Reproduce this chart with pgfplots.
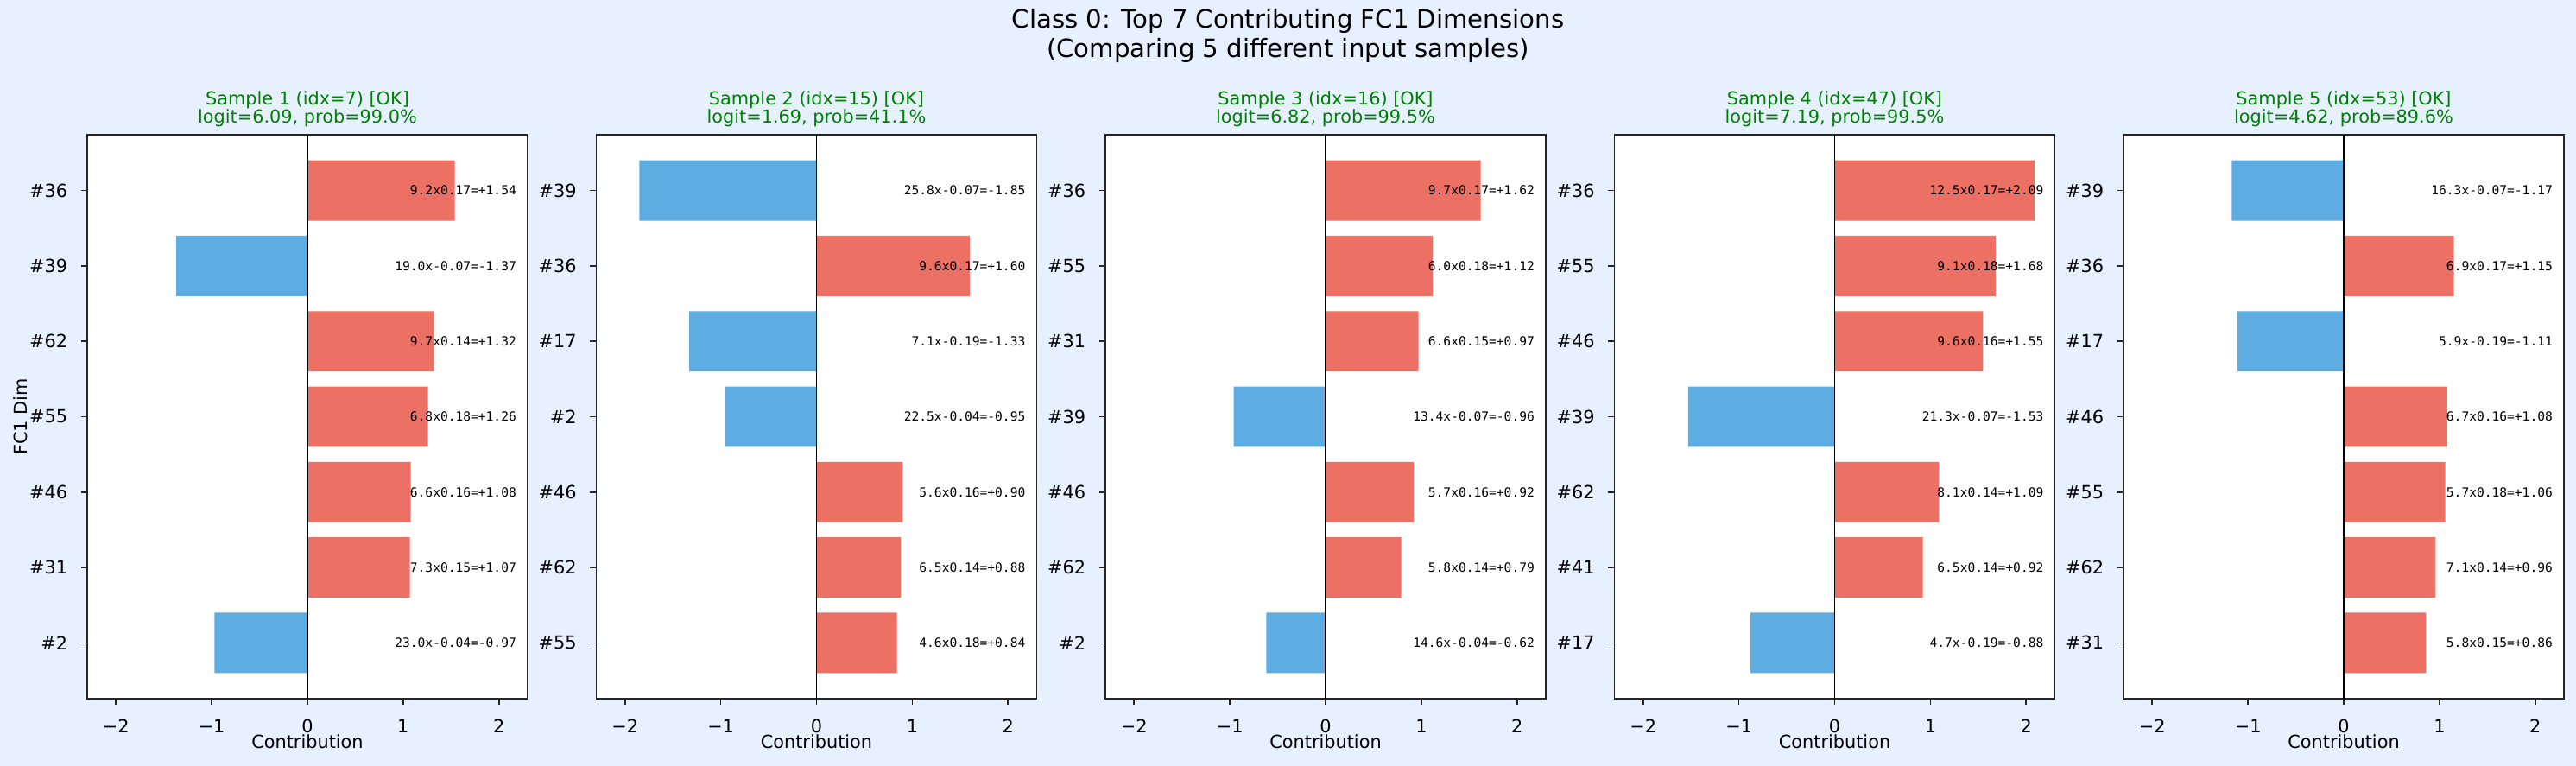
\documentclass[border=0pt]{standalone}
\usepackage{fontspec}
\setmainfont{DejaVu Sans}
\newfontfamily\monof{DejaVu Sans Mono}
\usepackage{pgfplots}
\pgfplotsset{compat=1.18}
\definecolor{bgc}{HTML}{E6F0FF}
\definecolor{posc}{HTML}{EC7063}
\definecolor{negc}{HTML}{5DADE2}
\definecolor{tgreen}{HTML}{008000}
\definecolor{spinec}{HTML}{262626}
\newcommand\tenf{\fontsize{10bp}{12bp}\selectfont}
\newcommand\annf{\monof\fontsize{7bp}{8bp}\selectfont}
\pgfplotsset{
  panel/.style={
    anchor=south west, scale only axis, width=244.8bp, height=313.44bp,
    xmin=-2.3, xmax=2.3, ymin=-0.74, ymax=6.74,
    axis background/.style={fill=white},
    axis line style={draw=spinec, line width=0.8bp},
    xtick={-2,-1,0,1,2}, xticklabels={−2,−1,0,1,2},
    ytick={0,1,2,3,4,5,6},
    tick pos=left,
    tick align=outside, major tick length=3.5bp,
    every tick/.style={draw=spinec, line width=0.8bp},
    tick label style={font=\tenf, text=black},
    xticklabel style={anchor=base, yshift=-15.36bp, inner sep=0pt},
    yticklabel style={anchor=east, xshift=-7.3bp, inner sep=0pt},
    xlabel={Contribution},
    xlabel style={at={(rel axis cs:0.5,0)}, anchor=base, yshift=-27.84bp, font=\tenf, inner sep=0pt},
    clip=false,
  },
  pbar/.style={xbar, bar width=0.8, bar shift=0pt, fill=posc, draw=none},
  nbar/.style={xbar, bar width=0.8, bar shift=0pt, fill=negc, draw=none},
  annot/.style={only marks, mark=none, nodes near coords, point meta=explicit symbolic,
    nodes near coords style={anchor=east, inner sep=0pt, font=\annf, text=black}},
}
\newcommand\ptitle[2]{%
  \node[anchor=base, text=tgreen, font=\tenf, inner sep=0pt, yshift=16.32bp] at (rel axis cs:0.5,1) {#1};
  \node[anchor=base, text=tgreen, font=\tenf, inner sep=0pt, yshift=6.24bp] at (rel axis cs:0.5,1) {#2};
  \draw[black, line width=0.8bp] (axis cs:0,-0.74) -- (axis cs:0,6.74);
}
\begin{document}
\begin{tikzpicture}
\useasboundingbox (0,0) rectangle (1431.84bp,425.76bp);
\fill[bgc] (0,0) rectangle (1431.84bp,425.76bp);
\node[anchor=base, font=\fontsize{14bp}{16bp}\selectfont, inner sep=0pt] at (715.92bp,409.92bp) {Class 0: Top 7 Contributing FC1 Dimensions};
\node[anchor=base, font=\fontsize{14bp}{16bp}\selectfont, inner sep=0pt] at (715.92bp,393.6bp) {(Comparing 5 different input samples)};

% Panel 1
\begin{axis}[panel, at={(48.48bp,37.44bp)}, yticklabels={\#2,\#31,\#46,\#55,\#62,\#39,\#36}]
\addplot[pbar] coordinates {(1.54,6) (1.32,4) (1.26,3) (1.08,2) (1.07,1)};
\addplot[nbar] coordinates {(-1.37,5) (-0.97,0)};
\addplot[annot] table[x=x, y=y, meta=lab] {
x y lab
2.185 6 9.2x0.17=+1.54
2.185 5 19.0x-0.07=-1.37
2.185 4 9.7x0.14=+1.32
2.185 3 6.8x0.18=+1.26
2.185 2 6.6x0.16=+1.08
2.185 1 7.3x0.15=+1.07
2.185 0 23.0x-0.04=-0.97
};
\ptitle{Sample 1 (idx=7) [OK]}{logit=6.09, prob=99.0\%}
\node[rotate=90, anchor=south, font=\tenf, inner sep=0pt] at ([xshift=-33.1bp]rel axis cs:0,0.5) {FC1 Dim};
\end{axis}

% Panel 2
\begin{axis}[panel, at={(331.44bp,37.44bp)}, yticklabels={\#55,\#62,\#46,\#2,\#17,\#36,\#39}]
\addplot[pbar] coordinates {(1.60,5) (0.90,2) (0.88,1) (0.84,0)};
\addplot[nbar] coordinates {(-1.85,6) (-1.33,4) (-0.95,3)};
\addplot[annot] table[x=x, y=y, meta=lab] {
x y lab
2.185 6 25.8x-0.07=-1.85
2.185 5 9.6x0.17=+1.60
2.185 4 7.1x-0.19=-1.33
2.185 3 22.5x-0.04=-0.95
2.185 2 5.6x0.16=+0.90
2.185 1 6.5x0.14=+0.88
2.185 0 4.6x0.18=+0.84
};
\ptitle{Sample 2 (idx=15) [OK]}{logit=1.69, prob=41.1\%}
\end{axis}

% Panel 3
\begin{axis}[panel, at={(614.4bp,37.44bp)}, yticklabels={\#2,\#62,\#46,\#39,\#31,\#55,\#36}]
\addplot[pbar] coordinates {(1.62,6) (1.12,5) (0.97,4) (0.92,2) (0.79,1)};
\addplot[nbar] coordinates {(-0.96,3) (-0.62,0)};
\addplot[annot] table[x=x, y=y, meta=lab] {
x y lab
2.185 6 9.7x0.17=+1.62
2.185 5 6.0x0.18=+1.12
2.185 4 6.6x0.15=+0.97
2.185 3 13.4x-0.07=-0.96
2.185 2 5.7x0.16=+0.92
2.185 1 5.8x0.14=+0.79
2.185 0 14.6x-0.04=-0.62
};
\ptitle{Sample 3 (idx=16) [OK]}{logit=6.82, prob=99.5\%}
\end{axis}

% Panel 4
\begin{axis}[panel, at={(897.36bp,37.44bp)}, yticklabels={\#17,\#41,\#62,\#39,\#46,\#55,\#36}]
\addplot[pbar] coordinates {(2.09,6) (1.68,5) (1.55,4) (1.09,2) (0.92,1)};
\addplot[nbar] coordinates {(-1.53,3) (-0.88,0)};
\addplot[annot] table[x=x, y=y, meta=lab] {
x y lab
2.185 6 12.5x0.17=+2.09
2.185 5 9.1x0.18=+1.68
2.185 4 9.6x0.16=+1.55
2.185 3 21.3x-0.07=-1.53
2.185 2 8.1x0.14=+1.09
2.185 1 6.5x0.14=+0.92
2.185 0 4.7x-0.19=-0.88
};
\ptitle{Sample 4 (idx=47) [OK]}{logit=7.19, prob=99.5\%}
\end{axis}

% Panel 5
\begin{axis}[panel, at={(1180.32bp,37.44bp)}, yticklabels={\#31,\#62,\#55,\#46,\#17,\#36,\#39}]
\addplot[pbar] coordinates {(1.15,5) (1.08,3) (1.06,2) (0.96,1) (0.86,0)};
\addplot[nbar] coordinates {(-1.17,6) (-1.11,4)};
\addplot[annot] table[x=x, y=y, meta=lab] {
x y lab
2.185 6 16.3x-0.07=-1.17
2.185 5 6.9x0.17=+1.15
2.185 4 5.9x-0.19=-1.11
2.185 3 6.7x0.16=+1.08
2.185 2 5.7x0.18=+1.06
2.185 1 7.1x0.14=+0.96
2.185 0 5.8x0.15=+0.86
};
\ptitle{Sample 5 (idx=53) [OK]}{logit=4.62, prob=89.6\%}
\end{axis}
\end{tikzpicture}
\end{document}
